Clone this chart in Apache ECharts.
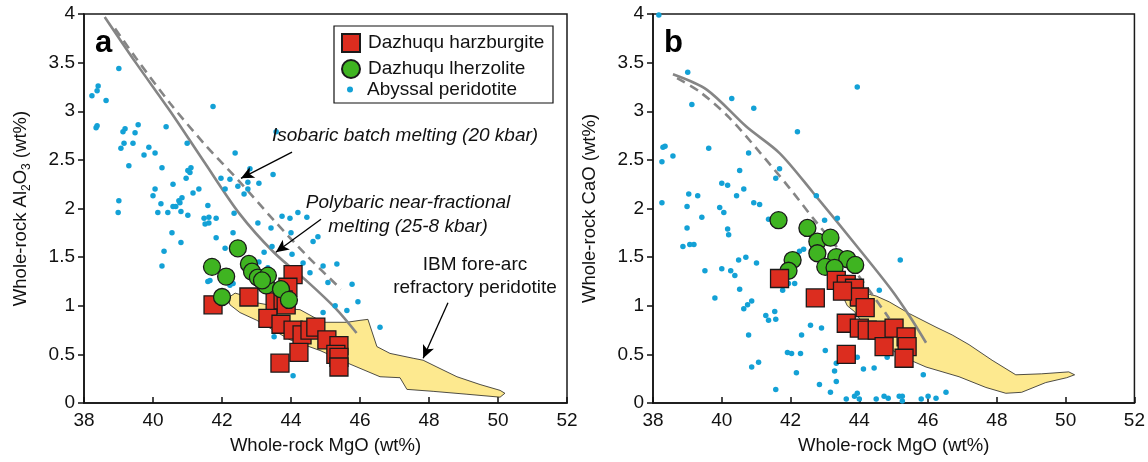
<!DOCTYPE html>
<html>
<head>
<meta charset="utf-8">
<script src="https://cdn.jsdelivr.net/npm/echarts@6/dist/echarts.min.js"></script>
<style>
html,body{margin:0;padding:0;background:#fff;}
#paint{width:1148px;height:462px;}
</style>
</head>
<body>
<div id="paint"></div>
<script>
// axis ranges (MgO on x, oxide on y)
var mgoTicks = [38, 52, 2];
var oxideTicks = [0, 4, 0.5];

// panel a: Al2O3 vs MgO
var abyssalA = [[39.01,3.44],[38.23,3.16],[38.41,3.26],[38.38,3.21],[38.64,3.11],[38.35,2.83],[38.38,2.85],[41.74,3.05],[43.57,2.79],[39.07,2.62],
    [39.19,2.82],[39.13,2.79],[39.48,2.78],[39.57,2.86],[39.42,2.67],[39.16,2.67],[40.38,2.84],[39.30,2.44],[39.88,2.63],[39.74,2.55],
    [40.06,2.57],[40.26,2.42],[40.99,2.67],[41.10,2.42],[41.01,2.39],[41.07,2.37],[40.96,2.31],[41.33,2.20],[41.16,2.16],[40.58,2.25],
    [40.06,2.20],[40.00,2.13],[40.84,2.11],[40.75,2.08],[40.78,2.06],[40.23,2.05],[40.58,2.02],[40.66,2.02],[40.43,1.96],[40.81,1.97],
    [40.14,1.96],[41.01,1.93],[41.59,2.03],[41.48,1.90],[41.62,1.91],[41.83,1.90],[42.35,1.95],[43.74,1.92],[43.97,1.90],[44.20,1.96],
    [39.01,2.08],[38.99,1.96],[42.38,2.57],[42.81,2.41],[41.97,2.31],[42.23,2.30],[42.75,2.27],[42.46,2.23],[42.09,2.20],[42.75,2.20],
    [43.07,2.26],[42.64,2.15],[43.48,2.35],[41.51,1.84],[41.62,1.85],[42.32,1.75],[41.83,1.70],[40.55,1.75],[43.04,1.85],[43.42,1.80],
    [44.00,1.75],[40.26,1.41],[40.32,1.56],[40.81,1.65],[41.59,1.25],[42.23,1.21],[43.45,1.61],[43.22,1.55],[43.07,1.45],[43.33,1.39],
    [44.03,1.53],[43.51,0.68],[44.06,0.28],[42.09,1.59],[42.61,1.60],[44.64,1.66],[44.78,1.71],[44.35,1.44],[44.55,1.34],[44.93,1.41],
    [45.33,1.43],[45.07,1.24],[45.77,1.22],[45.28,1.00],[45.94,1.04],[45.62,0.95],[44.93,0.93],[46.58,0.78],[44.46,1.91],[43.30,1.35],
    [41.65,1.26],[42.32,1.23]];
var harzA = [[41.74,1.01],[42.78,1.09],[44.06,1.32],[43.91,1.19],[43.54,1.04],[43.77,1.06],[43.86,1.01],[43.33,0.87],[43.71,0.81],[44.06,0.75],
    [44.32,0.70],[44.55,0.75],[44.72,0.78],[45.04,0.65],[45.39,0.59],[45.30,0.50],[45.39,0.47],[44.23,0.52],[43.68,0.41],[45.39,0.37]];
var lherzA = [[41.71,1.40],[42.46,1.59],[42.12,1.30],[42.00,1.09],[42.78,1.43],[42.87,1.35],[43.04,1.29],[43.28,1.21],[43.33,1.31],[43.16,1.26],
    [43.71,1.17],[43.94,1.06]];
var fracA = [[38.6,3.97],[39.5,3.5],[40.5,3.0],[41.5,2.47],[42.5,1.95],[43.5,1.55],[44.5,1.24],[45.3,0.97],[45.9,0.72]];
var batchA = [[38.9,3.85],[39.5,3.55],[40.5,3.08],[41.5,2.66],[42.5,2.28],[43.5,1.88],[44.5,1.5],[45.45,1.17]];
var ibmA = [[42.17,1.08],[42.38,1.13],[42.67,1.10],[43.01,1.03],[43.33,1.01],[43.68,0.97],[44.26,0.96],[44.93,0.83],[45.62,0.83],[46.00,0.85],
    [46.23,0.86],[46.49,0.58],[46.87,0.51],[47.54,0.46],[47.83,0.44],[48.23,0.37],[48.81,0.27],[49.48,0.19],[50.06,0.13],[50.20,0.10],
    [50.06,0.06],[49.10,0.09],[48.12,0.12],[47.36,0.14],[47.16,0.26],[46.58,0.27],[45.71,0.40],[44.84,0.54],[43.97,0.65],[43.39,0.77],
    [43.01,0.85],[42.52,0.93],[42.23,1.01]];

// panel b: CaO vs MgO
var abyssalB = [[38.17,3.99],[39.01,3.40],[39.13,3.07],[40.29,3.13],[40.93,3.03],[43.94,3.25],[42.20,2.79],[38.29,2.63],[38.35,2.64],[38.58,2.54],
    [38.26,2.48],[39.62,2.62],[40.78,2.57],[40.52,2.39],[41.68,2.41],[41.57,2.31],[38.26,2.06],[39.04,2.15],[39.30,2.13],[40.00,2.26],
    [40.17,2.24],[40.64,2.20],[40.43,2.13],[40.93,2.06],[41.10,2.04],[38.99,2.02],[39.94,2.01],[40.06,1.96],[39.42,1.91],[38.99,1.80],
    [40.17,1.79],[40.20,1.73],[41.36,1.89],[42.75,2.13],[42.99,1.88],[43.36,1.90],[38.87,1.61],[39.07,1.63],[39.19,1.63],[39.51,1.36],
    [40.00,1.38],[40.26,1.36],[40.38,1.31],[40.49,1.47],[40.70,1.50],[41.01,1.44],[40.52,1.17],[39.80,1.08],[40.64,0.97],[40.75,1.01],
    [40.87,1.05],[40.78,0.70],[41.28,0.90],[41.36,0.85],[41.54,0.94],[41.57,0.86],[41.77,1.16],[42.12,1.23],[41.94,1.23],[42.26,1.56],
    [42.38,1.58],[42.58,0.80],[42.90,0.77],[42.32,0.70],[41.91,0.52],[42.03,0.51],[42.29,0.51],[43.01,0.54],[41.07,0.42],[40.87,0.37],
    [42.17,0.31],[41.57,0.14],[42.84,0.19],[43.16,0.11],[43.28,0.33],[43.33,0.22],[43.62,0.04],[43.86,0.07],[43.94,0.10],[44.00,0.04],
    [43.94,0.47],[44.12,0.35],[44.58,1.16],[45.19,1.47],[44.43,0.36],[44.81,0.47],[45.86,0.29],[46.52,0.11],[46.00,0.07],[46.23,0.05],
    [45.80,0.04],[44.49,0.04],[44.72,0.07],[44.84,0.05],[45.16,0.07],[45.25,0.07],[45.25,0.02],[43.33,0.41]];
var harzB = [[41.68,1.28],[42.72,1.08],[43.33,1.26],[43.62,1.22],[43.86,1.18],[44.00,1.09],[44.17,0.98],[43.62,0.82],[44.00,0.77],[44.23,0.75],
    [44.52,0.75],[45.01,0.77],[44.72,0.58],[45.36,0.68],[45.39,0.58],[45.30,0.46],[43.62,0.50],[43.51,1.15]];
var lherzB = [[41.65,1.88],[42.49,1.80],[42.78,1.66],[43.16,1.70],[42.78,1.54],[42.06,1.47],[41.94,1.36],[43.33,1.50],[43.65,1.48],[43.88,1.42],
    [43.01,1.40],[43.28,1.39]];
var fracB = [[38.58,3.38],[39.57,3.22],[40.72,2.84],[41.68,2.57],[42.64,2.17],[43.91,1.62],[44.9,1.18],[45.45,0.9],[45.94,0.62]];
var batchB = [[38.7,3.34],[39.36,3.2],[40.23,2.93],[41.1,2.58],[41.97,2.21],[42.7,1.88],[43.42,1.57],[44.14,1.23],[44.87,0.87]];
var ibmB = [[43.57,1.06],[43.77,1.13],[44.06,1.14],[44.49,1.10],[44.87,1.04],[45.45,0.92],[46.23,0.78],[46.70,0.70],[47.19,0.60],[47.86,0.44],
    [48.55,0.29],[49.30,0.30],[50.09,0.32],[50.26,0.29],[50.03,0.26],[49.42,0.21],[48.72,0.11],[48.26,0.10],[47.68,0.16],[46.90,0.27],
    [45.94,0.37],[45.16,0.49],[44.58,0.65],[44.14,0.80],[43.86,0.94],[43.65,1.00]];

var FONT = 'Liberation Sans, Arial, sans-serif';
var RED = '#dc2d1f', GREEN = '#3fb421', BLUE = '#13a1d6', YELLOW = '#fde98f', GREY = '#858585';

function polygonSeries(pts, gi){
    return {
        type: 'custom', xAxisIndex: gi, yAxisIndex: gi, z: 1, silent: true,
        data: pts,
        renderItem: function(params, api){
            if(params.dataIndex !== 0) return null;
            var p = [];
            for(var i = 0; i < pts.length; i++) p.push(api.coord(pts[i]));
            return {type: 'polygon', shape: {points: p},
                style: {fill: YELLOW, stroke: '#222', lineWidth: 0.8, lineJoin: 'round'}};
        }
    };
}

function curve(data, gi, dashed, arrows){
    var s = {
        type: 'line', xAxisIndex: gi, yAxisIndex: gi, z: 2, silent: true,
        data: data, smooth: 0.3, showSymbol: false, symbol: 'none',
        lineStyle: {color: GREY, width: 2.6, type: dashed ? [9, 6] : 'solid'}
    };
    if(arrows){
        s.markLine = {
            silent: true, symbol: ['none', 'arrow'], symbolSize: [9, 13],
            label: {show: false},
            lineStyle: {color: '#000', width: 1.3, type: 'solid'},
            data: arrows
        };
    }
    return s;
}

function scatter(name, data, gi, symbol, size, color, z){
    return {
        name: name, type: 'scatter', xAxisIndex: gi, yAxisIndex: gi, z: z, silent: true,
        data: data, symbol: symbol, symbolSize: size,
        itemStyle: symbol === 'circle' && size < 10
            ? {color: color, opacity: 1}
            : {color: color, borderColor: '#1a1a1a', borderWidth: 1.3, opacity: 1}
    };
}

function xAx(gi){
    return {
        type: 'value', gridIndex: gi, min: mgoTicks[0], max: mgoTicks[1], interval: mgoTicks[2],
        name: 'Whole-rock MgO (wt%)', nameLocation: 'middle', nameGap: 33,
        nameTextStyle: {fontSize: 18.5, color: '#111', fontFamily: FONT},
        axisLine: {lineStyle: {color: '#111', width: 1.5}},
        axisTick: {inside: true, length: 6, lineStyle: {color: '#111', width: 1.5}},
        axisLabel: {fontSize: 19, color: '#111', margin: 8, fontFamily: FONT},
        splitLine: {show: false}
    };
}

function yAx(gi, name){
    return {
        type: 'value', gridIndex: gi, min: oxideTicks[0], max: oxideTicks[1], interval: oxideTicks[2],
        name: name, nameLocation: 'middle', nameGap: 51, nameRotate: 90,
        nameTextStyle: {fontSize: 18.5, color: '#111', fontFamily: FONT, lineHeight: 24,
            rich: {s: {fontSize: 12, lineHeight: 12, verticalAlign: 'bottom', color: '#111', fontFamily: FONT}}},
        axisLine: {lineStyle: {color: '#111', width: 1.5}},
        axisTick: {inside: false, length: 6, lineStyle: {color: '#111', width: 1.5}},
        axisLabel: {fontSize: 19, color: '#111', margin: 9, fontFamily: FONT},
        splitLine: {show: false}
    };
}

var chart = echarts.init(document.getElementById('paint'), null, {renderer: 'canvas'});

var option = {
    animation: false,
    backgroundColor: '#fff',
    textStyle: {fontFamily: FONT},
    grid: [
        {left: 84, top: 14, width: 483, height: 389, show: true, borderColor: '#1a1a1a', borderWidth: 1.5, backgroundColor: 'transparent'},
        {left: 653, top: 14, width: 483, height: 389, show: true, borderColor: '#1a1a1a', borderWidth: 1.5, backgroundColor: 'transparent'}
    ],
    xAxis: [xAx(0), xAx(1)],
    yAxis: [yAx(0, 'Whole-rock Al{s|2}O{s|3} (wt%)'), yAx(1, 'Whole-rock CaO (wt%)')],
    legend: [
        {data: ['Dazhuqu harzburgite', 'Dazhuqu lherzolite'], orient: 'vertical', left: 341, top: 33,
            padding: 0, itemWidth: 18, itemHeight: 18, itemGap: 6, selectedMode: false,
            textStyle: {fontSize: 19, color: '#111', padding: [0, 0, 0, 3], fontFamily: FONT}},
        {data: ['Abyssal peridotite'], orient: 'vertical', left: 347, top: 80,
            padding: 0, itemWidth: 6, itemHeight: 6, selectedMode: false,
            textStyle: {fontSize: 19, color: '#111', padding: [0, 0, 0, 9], fontFamily: FONT}}
    ],
    graphic: [
        {type: 'rect', shape: {x: 334, y: 26, width: 219, height: 77}, style: {fill: 'none', stroke: '#111', lineWidth: 1.2}, z: 10},
        {type: 'text', x: 95, y: 28, style: {text: 'a', font: 'bold 31px ' + FONT, fill: '#000'}, z: 10},
        {type: 'text', x: 664, y: 28, style: {text: 'b', font: 'bold 31px ' + FONT, fill: '#000'}, z: 10},
        {type: 'text', x: 272, y: 126, style: {text: 'Isobaric batch melting (20 kbar)', font: 'italic 19px ' + FONT, fill: '#111'}, z: 10},
        {type: 'text', x: 408, y: 191, style: {text: 'Polybaric near-fractional\nmelting (25-8 kbar)', font: 'italic 19px ' + FONT,
            fill: '#111', align: 'center', lineHeight: 24}, z: 10},
        {type: 'text', x: 475, y: 253, style: {text: 'IBM fore-arc\nrefractory peridotite', font: '19px ' + FONT,
            fill: '#111', align: 'center', lineHeight: 23}, z: 10}
    ],
    series: [
        polygonSeries(ibmA, 0),
        curve(batchA, 0, true, [
            [{coord: [44.03, 2.58]}, {coord: [42.55, 2.31]}],
            [{coord: [48.55, 1.03]}, {coord: [47.83, 0.46]}]
        ]),
        curve(fracA, 0, false, [
            [{coord: [44.87, 1.89]}, {coord: [43.56, 1.55]}]
        ]),
        scatter('Abyssal peridotite', abyssalA, 0, 'circle', 5.5, BLUE, 3),
        scatter('Dazhuqu harzburgite', harzA, 0, 'rect', 18, RED, 4),
        scatter('Dazhuqu lherzolite', lherzA, 0, 'circle', 17, GREEN, 5),

        polygonSeries(ibmB, 1),
        curve(batchB, 1, true),
        curve(fracB, 1, false),
        scatter('Abyssal peridotite', abyssalB, 1, 'circle', 5.5, BLUE, 3),
        scatter('Dazhuqu lherzolite', lherzB, 1, 'circle', 17, GREEN, 4),
        scatter('Dazhuqu harzburgite', harzB, 1, 'rect', 18, RED, 5)
    ]
};

chart.setOption(option);
</script>
</body>
</html>
